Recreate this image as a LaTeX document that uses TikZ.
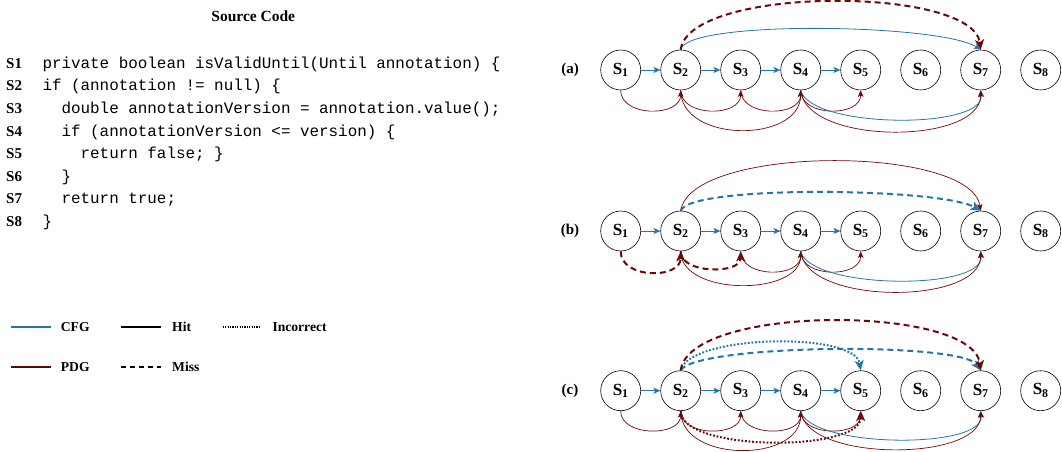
\documentclass[tikz,border=0pt]{standalone}
\usepackage{fontspec}
\setmainfont{Liberation Serif}
\setmonofont{Liberation Mono}
\usetikzlibrary{arrows.meta}
\definecolor{cfgc}{RGB}{35,118,170}
\definecolor{pdgc}{RGB}{110,8,8}
\tikzset{
  st/.style={circle, draw, line width=0.6pt, minimum size=40pt, inner sep=0pt,
    font=\fontsize{17}{18}\selectfont\bfseries},
  rowlab/.style={font=\fontsize{15}{18}\selectfont\bfseries},
  codeline/.style={anchor=base west, inner sep=0pt, font=\fontsize{15.9}{18}\ttfamily},
  codelab/.style={anchor=base west, inner sep=0pt, font=\fontsize{15}{18}\selectfont\bfseries},
  legtext/.style={anchor=west, inner sep=0pt, font=\fontsize{13.6}{16}\selectfont\bfseries},
  cfg/.style={draw=cfgc, line width=0.8pt, -{Stealth[length=7pt,width=6pt,inset=1.8pt]}},
  pdg/.style={draw=pdgc, line width=0.7pt, -{Stealth[length=6.5pt,width=5.5pt,inset=1.5pt]}},
  big/.style={line width=2pt, -{Stealth[length=10pt,width=9pt,inset=2.5pt]}},
  miss/.style={dash pattern=on 6pt off 4pt},
  wrong/.style={dash pattern=on 1.8pt off 1.8pt},
}
\begin{document}
\begin{tikzpicture}[x=1pt,y=-1pt]
\useasboundingbox (0,0) rectangle (1062,452);
% ---------- source code ----------
\node[font=\fontsize{15.5}{18}\selectfont\bfseries] (title) at (253.3,16.7) {Source Code};
\foreach \i/\yy in {1/68.3,2/90.9,3/113.5,4/136.1,5/158.7,6/181.3,7/203.9,8/226.5}{
  \node[codelab] (lab\i) at (6,\yy) {S\i};
}
\node[codeline] (code1) at (42.3,68.3) {private boolean isValidUntil(Until annotation) \{};
\node[codeline] (code2) at (42.3,90.9) {if (annotation != null) \{};
\node[codeline] (code3) at (42.3,113.5) {\phantom{xx}double annotationVersion = annotation.value();};
\node[codeline] (code4) at (42.3,136.1) {\phantom{xx}if (annotationVersion <= version) \{};
\node[codeline] (code5) at (42.3,158.7) {\phantom{xxxx}return false; \}};
\node[codeline] (code6) at (42.3,181.3) {\phantom{xx}\}};
\node[codeline] (code7) at (42.3,203.9) {\phantom{xx}return true;};
\node[codeline] (code8) at (42.3,226.5) {\}};
% ---------- legend ----------
\coordinate (l1a) at (10.7,326.7); \coordinate (l1b) at (50.7,326.7);
\coordinate (l2a) at (120.7,326.7); \coordinate (l2b) at (160.7,326.7);
\coordinate (l3a) at (222.7,326.7); \coordinate (l3b) at (260.7,326.7);
\coordinate (l4a) at (10.7,366.7); \coordinate (l4b) at (50.7,366.7);
\coordinate (l5a) at (120.7,366.7); \coordinate (l5b) at (160.7,366.7);
\draw[cfgc, line width=2pt] (l1a) -- (l1b);
\draw[black, line width=2pt] (l2a) -- (l2b);
\draw[black, line width=2pt, dash pattern=on 1.2pt off 1.2pt] (l3a) -- (l3b);
\draw[pdgc!85!black, line width=2pt] (l4a) -- (l4b);
\draw[black, line width=2pt, dash pattern=on 5pt off 4pt] (l5a) -- (l5b);
\node[legtext] (tcfg) at (60.7,326.7) {CFG};
\node[legtext] (thit) at (172,326.7) {Hit};
\node[legtext] (tinc) at (272.3,326.7) {Incorrect};
\node[legtext] (tpdg) at (60.7,366.7) {PDG};
\node[legtext] (tmiss) at (172,366.7) {Miss};
% ---------- nodes ----------
\foreach \r/\yy in {a/70,b/231,c/390.7}{
  \node[rowlab] (lab\r) at (570,\yy) {(\r)};
  \foreach \k in {1,...,8}{
    \node[st] (\r\k) at ({620.7+60*(\k-1)},\yy) {S\textsubscript{\k}};
  }
  \foreach \k/\m in {1/2,2/3,3/4,4/5}{
    \draw[cfg] (\r\k) -- (\r\m);
  }
}
% ---------- row (a) ----------
\draw[cfg] (a2.north) .. controls +(5,-30) and +(-40,-26) .. (a7.north);
\draw[pdg,big,miss] (a2.north) .. controls +(8,-64) and +(-8,-64) .. (a7.north);
\draw[pdg] (a1.south) .. controls +(0,27) and +(0,27) .. (a2.south);
\draw[pdg] (a2.south) .. controls +(0,27) and +(0,27) .. (a3.south);
\draw[pdg] (a3.south) .. controls +(0,27) and +(0,27) .. (a4.south);
\draw[pdg] (a4.south) .. controls +(0,27) and +(0,27) .. (a5.south);
\draw[pdg] (a2.south) .. controls +(0,53) and +(0,53) .. (a4.south);
\draw[cfg] (a4.south) .. controls +(9,38) and +(4,40) .. (a7.south);
\draw[pdg] (a4.south) .. controls +(5,55) and +(0,55) .. (a7.south);
% ---------- row (b) ----------
\draw[cfg,big,miss] (b2.north) .. controls +(9,-26) and +(-40,-23) .. (b7.north);
\draw[pdg] (b2.north) .. controls +(10,-66) and +(-10,-66) .. (b7.north);
\draw[pdg,big,miss] (b1.south) .. controls +(0,28) and +(0,28) .. (b2.south);
\draw[pdg,big,miss] (b2.south) .. controls +(0,23) and +(0,23) .. (b3.south);
\draw[pdg] (b3.south) .. controls +(0,27) and +(0,27) .. (b4.south);
\draw[pdg] (b4.south) .. controls +(0,27) and +(0,27) .. (b5.south);
\draw[pdg] (b2.south) .. controls +(0,45) and +(0,45) .. (b4.south);
\draw[cfg] (b4.south) .. controls +(9,38) and +(4,40) .. (b7.south);
\draw[pdg] (b4.south) .. controls +(5,54) and +(0,54) .. (b7.south);
% ---------- row (c) ----------
\draw[cfg,big,miss] (c2.north) .. controls +(14,-26) and +(-20,-29) .. (c7.north);
\draw[cfg,big,wrong] (c2.north) .. controls +(9,-36) and +(-6,-39) .. (c5.north);
\draw[pdg,big,miss] (c2.north) .. controls +(8,-66) and +(-8,-66) .. (c7.north);
\draw[pdg] (c1.south) .. controls +(0,26) and +(0,26) .. (c2.south);
\draw[pdg] (c2.south) .. controls +(0,26) and +(0,26) .. (c3.south);
\draw[pdg] (c3.south) .. controls +(0,26) and +(0,26) .. (c4.south);
\draw[pdg] (c4.south) .. controls +(0,26) and +(0,26) .. (c5.south);
\draw[pdg,big,wrong] (c2.south) .. controls +(0,41) and +(0,41) .. (c5.south);
\draw[pdg] (c2.south) .. controls +(0,52) and +(0,52) .. (c4.south);
\draw[cfg] (c4.south) .. controls +(9,37) and +(4,39) .. (c7.south);
\draw[pdg] (c4.south) .. controls +(5,51) and +(0,51) .. (c7.south);
\end{tikzpicture}
\end{document}
